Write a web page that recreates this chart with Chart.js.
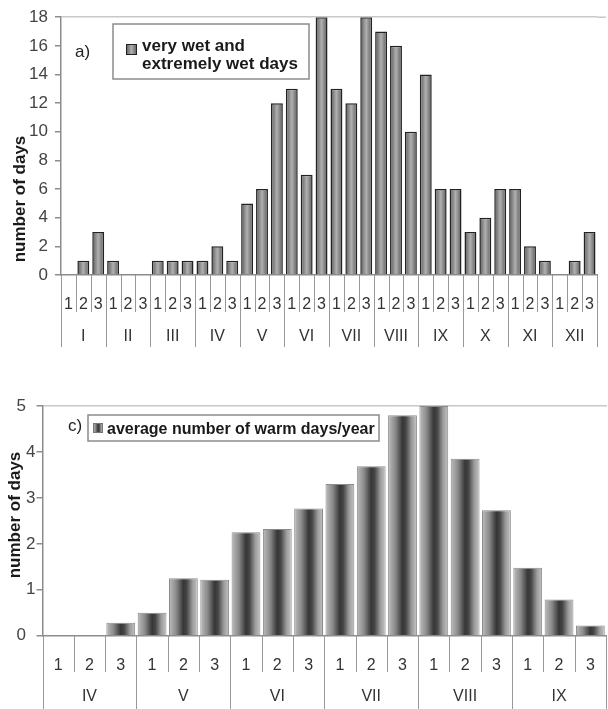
<!DOCTYPE html>
<html>
<head>
<meta charset="utf-8">
<script src="https://cdn.jsdelivr.net/npm/chart.js@4.4.1/dist/chart.umd.min.js"></script>
<style>
html, body { margin: 0; padding: 0; background: #fff; overflow: hidden; }
canvas { position: absolute; left: 0; }
#wetChart { top: 0; }
#warmChart { top: 360px; }
</style>
</head>
<body>
<canvas id="wetChart" width="608" height="360"></canvas>
<canvas id="warmChart" width="608" height="349"></canvas>
<script>

// data

const decades = ["1", "2", "3"];

const wetMonths = ["I", "II", "III", "IV", "V", "VI", "VII", "VIII", "IX", "X", "XI", "XII"];
const wetDays = [0, 1, 3, 1, 0, 0, 1, 1, 1, 1, 2, 1, 5, 6, 12, 13, 7, 18, 13, 12, 18, 17, 16, 10, 14, 6, 6, 3, 4, 6, 6, 2, 1, 0, 1, 3];
const wetTicks = [0, 2, 4, 6, 8, 10, 12, 14, 16, 18];

const warmMonths = ["IV", "V", "VI", "VII", "VIII", "IX"];
const warmDays = [0, 0, 0.28, 0.5, 1.25, 1.22, 2.25, 2.32, 2.77, 3.3, 3.69, 4.8, 5.0, 3.85, 2.73, 1.48, 0.79, 0.22];
const warmTicks = [0, 1, 2, 3, 4, 5];

const FONT = '"Liberation Sans", Arial, sans-serif';

// bar gradients

const wetStops = [[0, "#5a5a5a"], [0.5, "#b0b0b0"], [1, "#5a5a5a"]];
const warmStops = [[0, "#bdbdbd"], [0.25, "#8a8a8a"], [0.5, "#363636"], [0.62, "#464646"], [0.82, "#9c9c9c"], [1, "#c4c4c4"]];

function labelsFor(months){
let out = [];
months.forEach(() => decades.forEach(d => out.push(d)));
return out;
}

function barFill(stops, pct){
return function(c){
let chart = c.chart;
let xs = chart.scales.x;
if(!chart.chartArea || c.dataIndex === undefined || !xs) return stops[1][1];
let center = xs.getPixelForValue(c.dataIndex);
let w = xs.width / xs.ticks.length * pct;
if(!isFinite(center) || !isFinite(w)) return stops[1][1];
let g = chart.ctx.createLinearGradient(center - w / 2, 0, center + w / 2, 0);
stops.forEach(s => g.addColorStop(s[0], s[1]));
return g;
};
}

// separators, month row, title, legend

const decor = {
id: "decor",
afterDraw(chart, args, o){
let ctx = chart.ctx;
let xs = chart.scales.x;
let area = chart.chartArea;
let n = xs.ticks.length;
let w = xs.width / n;

ctx.save();

// top line of plot area
ctx.strokeStyle = "#c8c8c8";
ctx.lineWidth = 1.5;
ctx.beginPath();
ctx.moveTo(area.right, area.top);
ctx.lineTo(o.gridEnd, area.top);
ctx.stroke();

ctx.strokeStyle = "#999";
ctx.lineWidth = 1;
for(let i = 0; i <= n; i++){
let px = Math.round(xs.left + i * w) + 0.5;
ctx.beginPath();
ctx.moveTo(px, area.bottom);
ctx.lineTo(px, i % 3 === 0 ? o.monthBottom : o.decadeBottom);
ctx.stroke();
}

ctx.fillStyle = "#333";
ctx.font = "16px " + FONT;
ctx.textAlign = "center";
ctx.textBaseline = "middle";
o.months.forEach((m, k) => {
ctx.fillText(m, xs.left + (k * 3 + 1.5) * w, o.monthY);
});

// y title
ctx.save();
ctx.translate(o.titleX, o.titleY);
ctx.rotate(-Math.PI / 2);
ctx.fillStyle = "#1a1a1a";
ctx.font = "bold 17px " + FONT;
ctx.fillText("number of days", 0, 0);
ctx.restore();

// panel letter
ctx.textAlign = "left";
ctx.textBaseline = "alphabetic";
ctx.fillStyle = "#222";
ctx.font = "17px " + FONT;
ctx.fillText(o.letter, o.letterX, o.letterY);

// legend
let b = o.box;
ctx.strokeStyle = "#8c8c8c";
ctx.lineWidth = 1.5;
ctx.strokeRect(b[0], b[1], b[2] - b[0], b[3] - b[1]);

let m = o.marker;
let g = ctx.createLinearGradient(m[0], 0, m[0] + m[2], 0);
let stops = o.style === "wet" ? wetStops : warmStops;
stops.forEach(s => g.addColorStop(s[0], s[1]));
ctx.fillStyle = g;
ctx.fillRect(m[0], m[1], m[2], m[2]);
ctx.strokeStyle = o.style === "wet" ? "#222" : "#777";
ctx.lineWidth = 1;
ctx.strokeRect(m[0] + 0.5, m[1] + 0.5, m[2] - 1, m[2] - 1);

ctx.fillStyle = "#1a1a1a";
ctx.font = "bold " + o.legendSize + "px " + FONT;
o.lines.forEach((t, k) => {
ctx.fillText(t, o.textX, o.textY + k * 18);
});

ctx.restore();
}
};

function makeChart(id, cfg){

let canvas = document.getElementById(id);
if(!canvas) return;

return new Chart(canvas.getContext("2d"), {

type: "bar",

data: {
labels: labelsFor(cfg.months),
datasets: [{
label: cfg.legend.join(" "),
data: cfg.values,
backgroundColor: barFill(cfg.stops, cfg.barPct),
borderColor: cfg.border,
borderWidth: cfg.borderWidth,
borderSkipped: "bottom",
barPercentage: cfg.barPct,
categoryPercentage: 1
}]
},

options: {
responsive: false,
animation: false,
layout: { padding: cfg.padding },
plugins: {
legend: { display: false },
tooltip: { enabled: false },
decor: cfg.decor
},
scales: {
x: {
afterFit: s => { s.height = cfg.xHeight; },
grid: { display: false },
border: { display: true, color: "#8c8c8c", width: 1.5 },
ticks: {
color: "#333",
font: { family: FONT, size: 16 },
padding: 12,
autoSkip: false,
maxRotation: 0
}
},
y: {
min: 0,
max: cfg.ticks[cfg.ticks.length - 1],
afterFit: s => { s.width = cfg.yWidth; },
afterBuildTicks: s => { s.ticks = cfg.ticks.map(v => ({ value: v })); },
grid: {
color: c => c.tick && c.tick.value === cfg.ticks[cfg.ticks.length - 1] ? "#c8c8c8" : "rgba(0,0,0,0)",
lineWidth: 1.5,
tickColor: "#8c8c8c",
tickLength: 6
},
border: { display: true, color: "#8c8c8c", width: 1.5 },
ticks: {
color: "#444",
font: { family: FONT, size: 17 },
padding: cfg.tickPad,
callback: cfg.tickText
}
}
}
},

plugins: [decor]

});

}

document.addEventListener("DOMContentLoaded", function(){

makeChart("wetChart", {
months: wetMonths,
values: wetDays,
ticks: wetTicks,
legend: ["very wet and", "extremely wet days"],
stops: wetStops,
barPct: 0.8,
border: "#222",
borderWidth: 1.5,
padding: { top: 16, right: 11, left: 0, bottom: 0 },
xHeight: 85,
yWidth: 61,
tickPad: 7,
tickText: v => String(v),
decor: {
months: wetMonths,
gridEnd: 606,
decadeBottom: 312,
monthBottom: 347,
monthY: 337,
titleX: 20,
titleY: 199,
letter: "a)",
letterX: 75,
letterY: 57,
box: [113, 24, 309, 79],
marker: [126, 44, 11],
style: "wet",
legendSize: 17,
lines: ["very wet and", "extremely wet days"],
textX: 142,
textY: 51
}
});

// the 1-4 labels sit right of the axis title in the picture, 0 and 5 further left
makeChart("warmChart", {
months: warmMonths,
values: warmDays,
ticks: warmTicks,
legend: ["average number of warm days/year"],
stops: warmStops,
barPct: 0.92,
border: "#8a8a8a",
borderWidth: 1,
padding: { top: 46, right: 2, left: 0, bottom: 0 },
xHeight: 73.3,
yWidth: 42.5,
tickPad: 1,
tickText: v => (v === 0 || v === 5) ? v + "  " : String(v),
decor: {
months: warmMonths,
gridEnd: 607,
decadeBottom: 312,
monthBottom: 349,
monthY: 337,
titleX: 15,
titleY: 155,
letter: "c)",
letterX: 68,
letterY: 71,
box: [88, 55, 379, 81],
marker: [93, 63, 10],
style: "warm",
legendSize: 16,
lines: ["average number of warm days/year"],
textX: 107,
textY: 74
}
});

});

</script>
</body>
</html>
